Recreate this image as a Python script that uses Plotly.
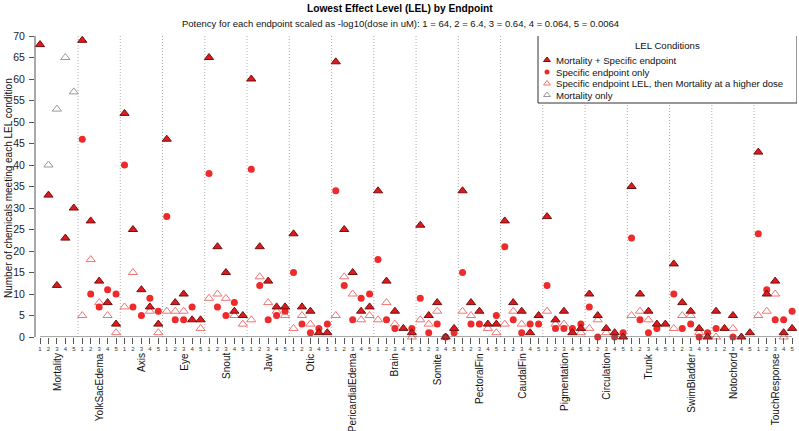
import plotly.graph_objects as go

# ---------------- data ----------------
endpoints = ["Mortality", "YolkSacEdema", "Axis", "Eye", "Snout", "Jaw", "Otic",
             "PericardialEdema", "Brain", "Somite", "PectoralFin", "CaudalFin",
             "Pigmentation", "Circulation", "Trunk", "SwimBladder", "Notochord",
             "TouchResponse"]
potency_labels = ["1", "2", "3", "4", "5"]

# Mortality + Specific endpoint (filled triangles)
mort_spec = [
    [68, 33, 12, 23, 30],
    [69, 27, 13, 8, 3],
    [52, 25, 11, 7, 3],
    [46, 8, 10, 4, 4],
    [65, 21, 15, 6, 5],
    [60, 21, 13, 7, 7],
    [24, 7, 6, 1, 1],
    [64, 25, 15, 6, 7],
    [34, 13, 6, 2, 1],
    [26, 5, 8, 0, 2],
    [34, 8, 6, 3, 3],
    [27, 8, 6, 1, 5],
    [28, 4, 6, 1, 2],
    [10, 5, 2, 1, 0],
    [35, 10, 6, 3, 3],
    [17, 8, 6, 2, 0],
    [6, 2, 5, 0, 1],
    [43, 10, 13, 1, 2],
]

# Specific endpoint only (filled circles)
spec_only = [
    [None, None, None, None, None],
    [46, 10, 7, 11, 10],
    [40, 7, 5, 9, 6],
    [28, 4, 4, 7, None],
    [38, 7, 5, 8, None],
    [39, 12, 4, 5, 6],
    [15, 3, 1, 2, 3],
    [34, 12, 4, 9, 10],
    [18, 4, 2, None, 2],
    [9, 1, 3, 0, 1],
    [15, 3, 3, None, 5],
    [21, 4, 1, 3, 3],
    [12, 2, 2, 2, 3],
    [7, 0, None, 0, 1],
    [23, 4, 1, 2, None],
    [10, 2, 3, 0, 1],
    [2, None, 0, None, None],
    [24, 11, 4, 4, 6],
]

# Specific endpoint LEL, then Mortality at a higher dose (open red triangles)
spec_then_mort = [
    [None, None, None, None, None],
    [5, 18, 8, 5, 1],
    [7, 15, None, 6, 1],
    [6, 6, 6, None, 2],
    [9, 10, 9, 5, 3],
    [4, 14, 8, 6, 5],
    [2, 5, 3, None, None],
    [5, 14, 10, 4, 5],
    [4, 8, 3, None, 0],
    [4, 3, 6, None, None],
    [6, 5, None, 2, 1],
    [3, 6, 3, None, None],
    [6, 3, 3, None, 1],
    [2, 4, 1, None, None],
    [5, 6, 4, None, None],
    [2, 5, 5, 1, None],
    [0, None, 2, None, None],
    [5, 6, 10, 0, None],
]

# Mortality only (open gray triangles)
mort_only = [[None, 40, 53, 65, 57]] + [[None] * 5 for _ in range(17)]

legend_labels = ["Mortality + Specific endpoint", "Specific endpoint only",
                 "Specific endpoint LEL, then Mortality at a higher dose",
                 "Mortality only"]

FONT = "Liberation Sans, Arial, sans-serif"
C_FILL = "#E0191C"
C_EDGE = "#701010"
C_CIRC = "#EE2A2A"
C_OPEN = "#F07474"
C_GRAY = "#9A9A9A"
AX = "#555555"

# plot-area geometry (pixels) used to place decorations
L, R, T, B = 35, 797, 36, 337


def px_x(p):
    return (p - L) / (R - L)


def px_y(p):
    return (B - p) / (B - T)


def flatten(series):
    xs, ys = [], []
    for g, vals in enumerate(series):
        for p, v in enumerate(vals):
            if v is not None:
                xs.append(g * 5 + p + 1)
                ys.append(v)
    return xs, ys


fig = go.Figure()

styles = [
    (mort_only, dict(symbol="triangle-up-open", size=8, color=C_GRAY, line=dict(width=1, color=C_GRAY))),
    (spec_then_mort, dict(symbol="triangle-up-open", size=8, color=C_OPEN, line=dict(width=1, color=C_OPEN))),
    (spec_only, dict(symbol="circle", size=7, color=C_CIRC, line=dict(width=0))),
    (mort_spec, dict(symbol="triangle-up", size=8, color=C_FILL, line=dict(width=1, color=C_EDGE))),
]
for series, mk in styles:
    xs, ys = flatten(series)
    fig.add_trace(go.Scatter(x=xs, y=ys, mode="markers", marker=mk,
                             cliponaxis=False, showlegend=False, hoverinfo="x+y"))

n = len(endpoints) * 5
tickvals = list(range(1, n + 1))
ticktext = potency_labels * len(endpoints)

shapes = []
for g in range(1, len(endpoints)):
    shapes.append(dict(type="line", xref="x", yref="y", x0=g * 5 + 0.5, x1=g * 5 + 0.5,
                       y0=0, y1=70, line=dict(color="#B0B0B0", width=1, dash="1px,2px"), layer="below"))
shapes.append(dict(type="line", xref="x", yref="y", x0=1, x1=n, y0=0, y1=0,
                   line=dict(color=AX, width=1)))
shapes.append(dict(type="line", xref="paper", yref="y", x0=0, x1=0, y0=0, y1=70,
                   line=dict(color=AX, width=1)))

annotations = []
for g, name in enumerate(endpoints):
    annotations.append(dict(text=name, x=g * 5 + 3, xref="x", y=0, yref="paper",
                            yshift=-14, xanchor="center", yanchor="top", textangle=-90,
                            showarrow=False, font=dict(family=FONT, size=10, color="#111")))

annotations.append(dict(text="<b>Lowest Effect Level (LEL) by Endpoint</b>", x=px_x(400), xref="paper",
                        y=px_y(8), yref="paper", xanchor="center", yanchor="middle", showarrow=False,
                        font=dict(family=FONT, size=10.2, color="#000")))
annotations.append(dict(text="Potency for each endpoint scaled as -log10(dose in uM): 1 = 64, 2 = 6.4, 3 = 0.64, 4 = 0.064, 5 = 0.0064",
                        x=px_x(400), xref="paper", y=px_y(23), yref="paper", xanchor="center",
                        yanchor="middle", showarrow=False, font=dict(family=FONT, size=9.5, color="#111")))
annotations.append(dict(text="Number of chemicals meeting each LEL condition", x=px_x(8), xref="paper",
                        y=px_y(188), yref="paper", xanchor="center", yanchor="middle", textangle=-90,
                        showarrow=False, font=dict(family=FONT, size=10, color="#111")))

# manual legend (pixel coordinates through hidden overlay axes)
shapes.append(dict(type="rect", xref="x2", yref="y2", x0=538, x1=797, y0=35, y1=103,
                   line=dict(color="#333", width=1), fillcolor="white", layer="below"))
annotations.append(dict(text="LEL Conditions", x=667, xref="x2", y=45, yref="y2",
                        xanchor="center", yanchor="middle", showarrow=False,
                        font=dict(family=FONT, size=9.6, color="#111")))
leg_y = [60, 72, 83.5, 95]
for lab, yy in zip(legend_labels, leg_y):
    annotations.append(dict(text=lab, x=554, xref="x2", y=yy, yref="y2", xanchor="left",
                            yanchor="middle", showarrow=False,
                            font=dict(family=FONT, size=9.6, color="#111")))
leg_styles = [styles[3][1], styles[2][1], styles[1][1], styles[0][1]]
for mk, yy in zip(leg_styles, leg_y):
    m = dict(mk)
    m["size"] = mk["size"] - 2
    fig.add_trace(go.Scatter(x=[547], y=[yy], xaxis="x2", yaxis="y2", mode="markers",
                             marker=m, cliponaxis=False, showlegend=False, hoverinfo="skip"))

fig.update_layout(
    template="none",
    width=799, height=431,
    margin=dict(l=L, r=799 - R, t=T, b=431 - B, autoexpand=False),
    paper_bgcolor="white", plot_bgcolor="white",
    showlegend=False,
    font=dict(family=FONT, color="#111"),
    xaxis=dict(range=[0.408, 90.58], tickmode="array", tickvals=tickvals, ticktext=ticktext,
               tickangle=0, tickfont=dict(size=6, color="#333"), ticks="outside", ticklen=6,
               tickcolor=AX, showgrid=False, zeroline=False, showline=False, fixedrange=True,
               automargin=False),
    yaxis=dict(range=[0, 70], tickmode="array", tickvals=list(range(0, 71, 5)),
               tickfont=dict(size=10.5, color="#222"), ticks="outside", ticklen=5, tickcolor=AX,
               ticklabelstandoff=2,
               showgrid=False, zeroline=False, showline=False, fixedrange=True, automargin=False),
    xaxis2=dict(range=[L, R], overlaying="x", visible=False, fixedrange=True),
    yaxis2=dict(range=[B, T], overlaying="y", visible=False, fixedrange=True),
    shapes=shapes,
    annotations=annotations,
)

fig.write_html("out.html", config={"displayModeBar": False},
               post_script="document.body.style.margin='0';document.body.style.padding='0';")
